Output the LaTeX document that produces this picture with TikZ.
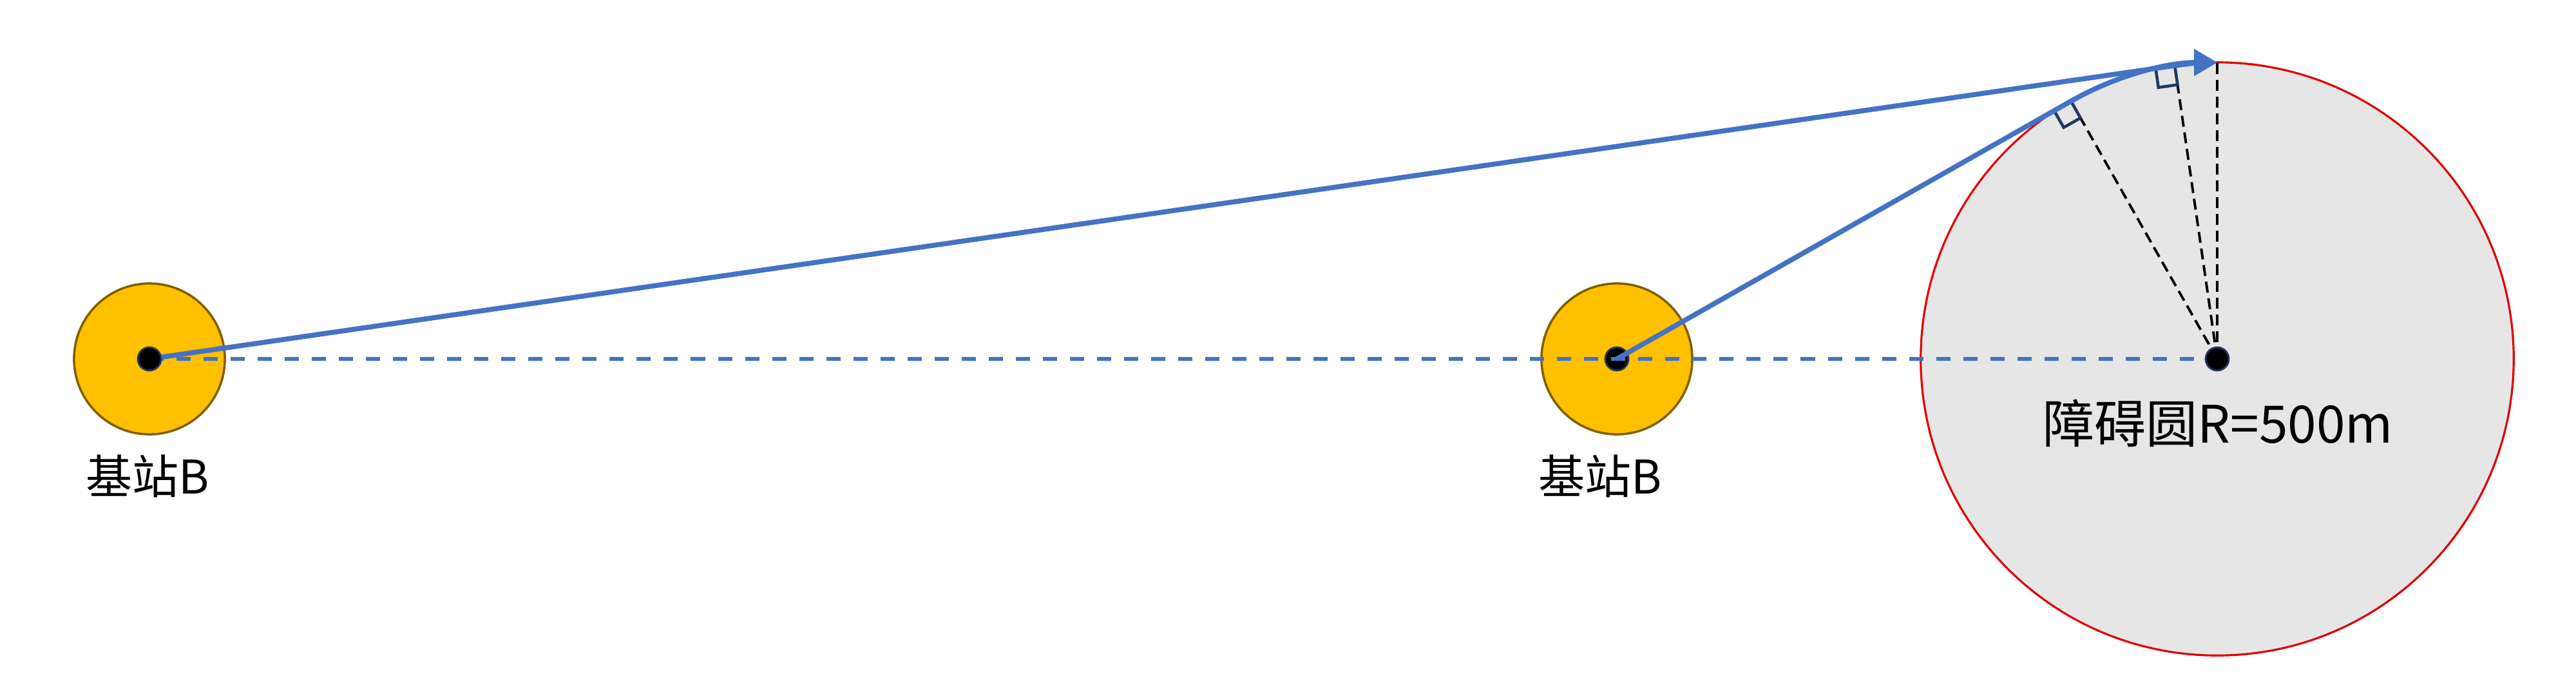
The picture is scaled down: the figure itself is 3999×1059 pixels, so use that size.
\documentclass[tikz,border=0pt]{standalone}
\usepackage{fontspec}
\newfontfamily\cjk{Noto Sans CJK SC}
\usetikzlibrary{arrows.meta,calc}
\definecolor{bsblue}{HTML}{4472C4}
\definecolor{bsyellow}{HTML}{FFC000}
\definecolor{bsgold}{HTML}{7F6000}
\definecolor{obgray}{HTML}{E7E6E6}
\definecolor{obred}{HTML}{E00000}
\definecolor{navy}{HTML}{1F3864}
\begin{document}
\begin{tikzpicture}[x=0.01cm,y=0.01cm,
  station/.style={circle,fill=bsyellow,draw=bsgold,line width=1pt,minimum size=2.34cm,inner sep=0pt,outer sep=0pt},
  dot/.style={circle,fill=black,draw=navy,line width=0.8pt,minimum size=0.36cm,inner sep=0pt,outer sep=0pt},
  obstacle/.style={circle,fill=obgray,draw=obred,line width=0.9pt,minimum size=9.2cm,inner sep=0pt,outer sep=0pt},
  axisline/.style={draw=bsblue,line width=1.8pt,dash pattern=on 0.22cm off 0.2cm},
  bluepath/.style={draw=bsblue,line width=2.2pt,-{Triangle[length=0.36cm,width=0.40cm]}},
  radline/.style={draw=black,line width=1.1pt,dash pattern=on 0.17cm off 0.09cm},
  rightmark/.style={draw=navy,line width=1.3pt},
  lbl/.style={font=\cjk\fontsize{20.5pt}{24pt}\selectfont,inner sep=0pt},
  oblbl/.style={font=\cjk\fontsize{22.8pt}{27pt}\selectfont,inner sep=0pt}
]
\useasboundingbox (0,0) rectangle (3999,1059);
% obstacle circle
\node[obstacle] (obs) at (3442,502) {};
% stations
\node[station] (s1) at (232,502) {};
\node[station] (s2) at (2510,502) {};
\node[dot] (d2) at (s2) {};
% tangent points
\coordinate (t1) at ($(obs.center)+(98.24:460)$);
\coordinate (t2) at ($(obs.center)+(119.58:460)$);
\coordinate (top) at ($(obs.center)+(90:460)$);
% dashed axis
\draw[axisline] (s1.center) -- (obs.center);
% radii
\draw[radline] (obs.center) -- (t1);
\draw[radline] (obs.center) -- (t2);
\draw[radline] (obs.center) -- (top);
% right-angle marks
\draw[rightmark] (t1) -- ++(278.24:30) -- ++(188.24:30) -- ++(98.24:30);
\draw[rightmark] (t2) -- ++(299.58:30) -- ++(209.58:30) -- ++(119.58:30);
% paths
\draw[bluepath] (s1.center) -- (t1) arc[start angle=98.24,end angle=90,radius=460];
\draw[bluepath] (d2.center) -- (t2) arc[start angle=119.58,end angle=90,radius=460];
% dots on top
\node[dot] (d1) at (s1) {};
\node[dot] (d3) at (obs) {};
% labels
\node[lbl] (l1) at (229,320) {基站B};
\node[lbl] (l2) at (2484,320) {基站B};
\node[oblbl] (l3) at (3443,402) {障碍圆R=500m};
\end{tikzpicture}
\end{document}
